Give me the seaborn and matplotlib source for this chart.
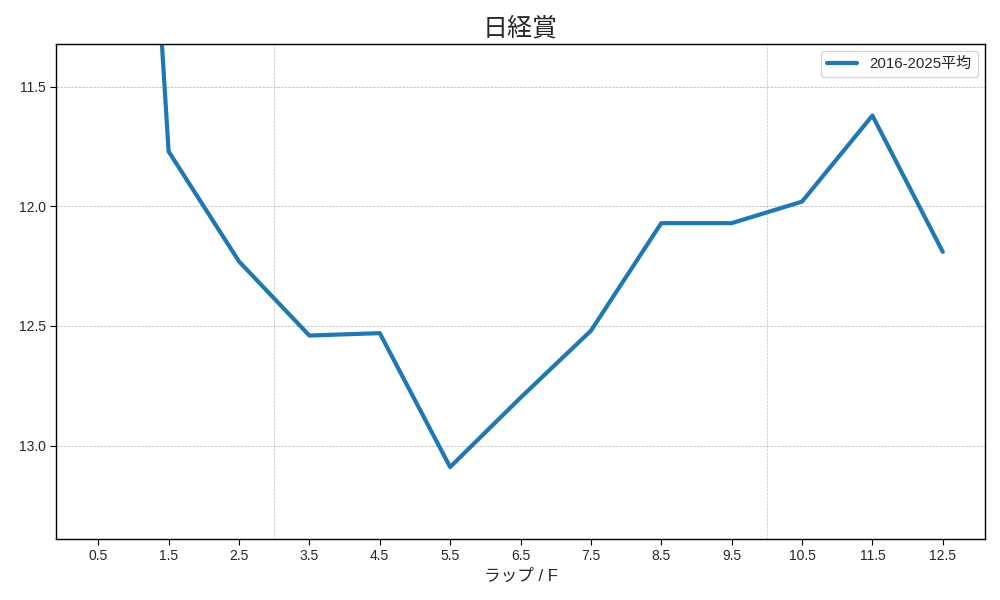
import matplotlib
matplotlib.use("Agg")
import matplotlib.pyplot as plt
import seaborn as sns
import pandas as pd

laps = [0.5, 1.5, 2.5, 3.5, 4.5, 5.5, 6.5, 7.5, 8.5, 9.5, 10.5, 11.5, 12.5]
times = [7.05, 11.77, 12.23, 12.54, 12.53, 13.09, 12.80, 12.52, 12.07, 12.07, 11.98, 11.62, 12.19]
series_name = "2016-2025平均"
section_marks = [3, 10]

sns.set_style("white")
plt.rcParams['font.family'] = ['Liberation Sans', 'Noto Sans CJK JP', 'DejaVu Sans']
plt.rcParams['axes.unicode_minus'] = False

df = pd.DataFrame({"lap": laps, "time": times, "series": series_name})

fig, ax = plt.subplots(figsize=(10, 6), dpi=100)
sns.lineplot(data=df, x="lap", y="time", hue="series", palette=["#1f77b4"],
             linewidth=3, ax=ax)

for m in section_marks:
    ax.axvline(m, color="gray", linestyle="--", linewidth=0.5, alpha=0.5)

ax.grid(axis="y", linestyle="--", linewidth=0.5, color="gray", alpha=0.6)
ax.set_xticks(laps)
ax.set_xticklabels([str(v) for v in laps])
rest = times[1:]
ax.set_ylim(max(rest) + 0.3, min(rest) - 0.3)
ax.set_yticks([11.5, 12.0, 12.5, 13.0])
ax.set_xlim(-0.1, 13.1)
for s in ax.spines.values():
    s.set_color("black")
    s.set_linewidth(1.0)
ax.tick_params(axis="both", labelsize=10, length=4, color="black", direction="out", bottom=True, left=True)
ax.set_title("日経賞", fontsize=18, family=['Noto Sans CJK JP'])
ax.set_xlabel("ラップ / F", fontsize=12)
ax.set_ylabel("")
ax.legend(loc="upper right", fontsize=10.8)

fig.subplots_adjust(left=0.056, right=0.985, top=0.927, bottom=0.102)
fig.savefig("out.png", dpi=100)
